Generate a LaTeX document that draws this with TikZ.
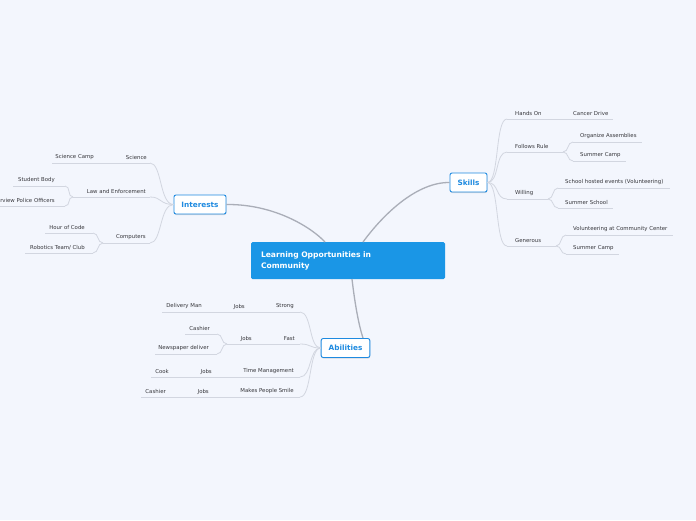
\documentclass[tikz,border=0pt]{standalone}
\usepackage{fontspec}
\setmainfont{DejaVu Sans}
\usetikzlibrary{shadows}
\definecolor{MapBg}{RGB}{243,246,253}
\definecolor{RootBlue}{RGB}{26,150,230}
\definecolor{BoxBlue}{RGB}{30,138,224}
\definecolor{TrunkGray}{RGB}{170,174,184}
\definecolor{TwigGray}{RGB}{210,214,224}
\definecolor{LabelGray}{RGB}{55,55,60}

\begin{document}
\begin{tikzpicture}[x=1pt, y=-1pt,
  topic/.style={font=\fontsize{5.4}{6}\selectfont, text=LabelGray, inner sep=0pt},
  twig/.style={draw=TwigGray, line width=0.8pt},
  trunk/.style={draw=TrunkGray, line width=1.3pt},
  mainbox/.style={draw=BoxBlue, fill=white, rounded corners=2pt, line width=0.9pt,
                  text=BoxBlue, font=\fontsize{7.3}{8}\selectfont\bfseries,
                  inner xsep=7.5pt, minimum height=19pt,
                  drop shadow={shadow xshift=0.3pt, shadow yshift=-1pt, opacity=0.25}},
  rootbox/.style={fill=RootBlue, rounded corners=1.5pt, text=white,
                  font=\fontsize{7.6}{11}\selectfont\bfseries, align=left,
                  text width=174pt, inner xsep=10pt, minimum width=194pt, minimum height=37pt}]
  \fill[MapBg] (0,0) rectangle (696,520);
  \useasboundingbox (0,0) rectangle (696,520);

  % main topics
  \node[rootbox] (root) at (348,260.5) {Learning Opportunities in\\Community};
  \node[mainbox] (int) at (200,204.5) {Interests};
  \node[mainbox] (skl) at (468.5,182.5) {Skills};
  \node[mainbox] (abl) at (345.5,348) {Abilities};
  \coordinate (r-int) at (325,242);
  \coordinate (r-skl) at (363,242);
  \coordinate (r-abl) at (352,279);
  \coordinate (a-top) at (363,338);
  \draw[trunk] (int.east) .. controls (275,204) and (312,228) .. (r-int);
  \draw[trunk] (r-skl) .. controls (385,212) and (418,182) .. (skl.west);
  \draw[trunk] (r-abl) .. controls (355,305) and (359,326) .. (a-top);

  % left side labels (right aligned)
  \foreach \n/\t/\x/\ly/\a/\b in {
      sci/Science/147/163/98/150, scicamp/Science Camp/94/163/52/98,
      law/Law and Enforcement/146/197/73/150, stud/Student Body/55/186/13/65,
      intv/Interview Police Officers/55/206/-20/65,
      comp/Computers/146/243/103/150, hoc/Hour of Code/85/233/45/93,
      robo/{Robotics Team/ Club}/85/253/25/93,
      str/Strong/294/312/262/300, strj/Jobs/245/312/225/262,
      dlv/Delivery Man/202/312/162/225,
      fast/Fast/295/344/262/300, fastj/Jobs/252/344/227/262,
      cash/Cashier/210/334/185/217, news/Newspaper deliver/209/354/155/217,
      tm/Time Management/294/377/235/300, tmj/Jobs/212/377/178/235,
      cook/Cook/169/377/151/178,
      mps/Makes People Smile/294/397/230/300, mpsj/Jobs/209/397/178/230,
      cash2/Cashier/166/397/141/178}
  {
    \node[topic, anchor=east] (\n) at (\x,\ly-5.5) {\t};
    \coordinate (\n-l) at (\a,\ly);
    \coordinate (\n-r) at (\b,\ly);
    \draw[twig] (\n-l) -- (\n-r);
  }

  % right side labels (left aligned)
  \foreach \n/\t/\x/\ly/\a/\b in {
      hand/Hands On/515/119/507/560, canc/Cancer Drive/573/119/560/613,
      fol/Follows Rule/515/152/507/563, org/Organize Assemblies/580/142/573/642,
      scamp/Summer Camp/580/161/573/626,
      will/Willing/515/199/507/548, shev/School hosted events (Volunteering)/565/188/558/670,
      ssch/Summer School/565/208/558/613,
      gen/Generous/515/246/507/556, vol/Volunteering at Community Center/573/235/566/673,
      scamp2/Summer Camp/573/254/566/619}
  {
    \node[topic, anchor=west] (\n) at (\x,\ly-5.5) {\t};
    \coordinate (\n-l) at (\a,\ly);
    \coordinate (\n-r) at (\b,\ly);
    \draw[twig] (\n-l) -- (\n-r);
  }

  % twigs from the boxes
  \foreach \k in {sci,law,comp}
    \draw[twig] (int.west) .. controls +(-14,0) and +(12,0) .. (\k-r);
  \foreach \k in {hand,fol,will,gen}
    \draw[twig] (skl.east) .. controls +(12,0) and +(-12,0) .. (\k-l);
  \foreach \k in {str,fast,tm,mps}
    \draw[twig] (abl.west) .. controls +(-12,0) and +(12,0) .. (\k-r);
  % second level forks
  \foreach \k in {stud,intv}
    \draw[twig] (law-l) .. controls +(-6,0) and +(6,0) .. (\k-r);
  \foreach \k in {hoc,robo}
    \draw[twig] (comp-l) .. controls +(-6,0) and +(6,0) .. (\k-r);
  \foreach \k in {cash,news}
    \draw[twig] (fastj-l) .. controls +(-6,0) and +(6,0) .. (\k-r);
  \foreach \k in {org,scamp}
    \draw[twig] (fol-r) .. controls +(6,0) and +(-6,0) .. (\k-l);
  \foreach \k in {shev,ssch}
    \draw[twig] (will-r) .. controls +(6,0) and +(-6,0) .. (\k-l);
  \foreach \k in {vol,scamp2}
    \draw[twig] (gen-r) .. controls +(6,0) and +(-6,0) .. (\k-l);
\end{tikzpicture}
\end{document}
